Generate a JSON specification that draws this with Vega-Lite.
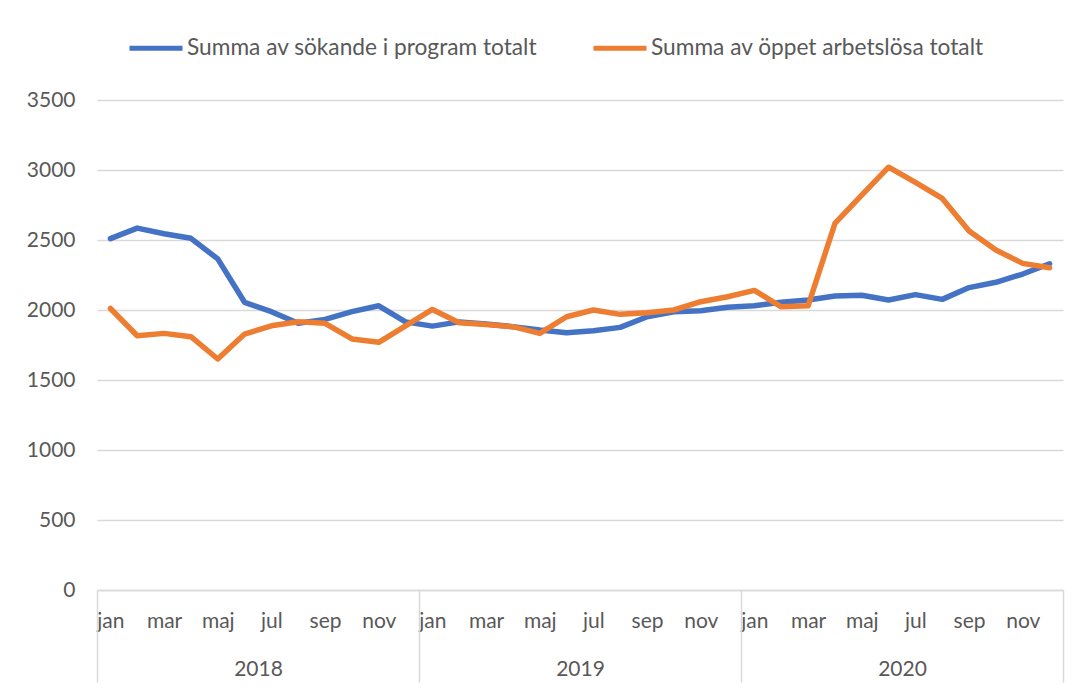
{
  "$schema": "https://vega.github.io/schema/vega-lite/v6.json",
  "autosize": {"type": "none"},
  "padding": {"left": 97, "top": 100, "right": 23, "bottom": 98},
  "width": 966,
  "height": 490,
  "background": "white",
  "config": {
    "view": {"stroke": null},
    "font": "Lato",
    "axis": {"labelFont": "Lato", "labelFontSize": 21, "labelColor": "#595959", "titleColor": "#595959"},
    "legend": {"labelFont": "Lato", "labelFontSize": 22.7, "labelColor": "#595959", "labelLimit": 0}
  },
  "datasets": {
    "series": [
      {"period": "2018 jan", "serie": "Summa av sökande i program totalt", "value": 2510},
      {"period": "2018 feb", "serie": "Summa av sökande i program totalt", "value": 2585},
      {"period": "2018 mar", "serie": "Summa av sökande i program totalt", "value": 2545},
      {"period": "2018 apr", "serie": "Summa av sökande i program totalt", "value": 2512},
      {"period": "2018 maj", "serie": "Summa av sökande i program totalt", "value": 2365},
      {"period": "2018 jun", "serie": "Summa av sökande i program totalt", "value": 2055},
      {"period": "2018 jul", "serie": "Summa av sökande i program totalt", "value": 1988},
      {"period": "2018 aug", "serie": "Summa av sökande i program totalt", "value": 1905},
      {"period": "2018 sep", "serie": "Summa av sökande i program totalt", "value": 1933},
      {"period": "2018 okt", "serie": "Summa av sökande i program totalt", "value": 1988},
      {"period": "2018 nov", "serie": "Summa av sökande i program totalt", "value": 2030},
      {"period": "2018 dec", "serie": "Summa av sökande i program totalt", "value": 1915},
      {"period": "2019 jan", "serie": "Summa av sökande i program totalt", "value": 1885},
      {"period": "2019 feb", "serie": "Summa av sökande i program totalt", "value": 1915},
      {"period": "2019 mar", "serie": "Summa av sökande i program totalt", "value": 1900},
      {"period": "2019 apr", "serie": "Summa av sökande i program totalt", "value": 1881},
      {"period": "2019 maj", "serie": "Summa av sökande i program totalt", "value": 1857},
      {"period": "2019 jun", "serie": "Summa av sökande i program totalt", "value": 1838},
      {"period": "2019 jul", "serie": "Summa av sökande i program totalt", "value": 1852},
      {"period": "2019 aug", "serie": "Summa av sökande i program totalt", "value": 1876},
      {"period": "2019 sep", "serie": "Summa av sökande i program totalt", "value": 1952},
      {"period": "2019 okt", "serie": "Summa av sökande i program totalt", "value": 1988},
      {"period": "2019 nov", "serie": "Summa av sökande i program totalt", "value": 1995},
      {"period": "2019 dec", "serie": "Summa av sökande i program totalt", "value": 2019},
      {"period": "2020 jan", "serie": "Summa av sökande i program totalt", "value": 2031},
      {"period": "2020 feb", "serie": "Summa av sökande i program totalt", "value": 2055},
      {"period": "2020 mar", "serie": "Summa av sökande i program totalt", "value": 2071},
      {"period": "2020 apr", "serie": "Summa av sökande i program totalt", "value": 2100},
      {"period": "2020 maj", "serie": "Summa av sökande i program totalt", "value": 2105},
      {"period": "2020 jun", "serie": "Summa av sökande i program totalt", "value": 2071},
      {"period": "2020 jul", "serie": "Summa av sökande i program totalt", "value": 2110},
      {"period": "2020 aug", "serie": "Summa av sökande i program totalt", "value": 2076},
      {"period": "2020 sep", "serie": "Summa av sökande i program totalt", "value": 2160},
      {"period": "2020 okt", "serie": "Summa av sökande i program totalt", "value": 2198},
      {"period": "2020 nov", "serie": "Summa av sökande i program totalt", "value": 2257},
      {"period": "2020 dec", "serie": "Summa av sökande i program totalt", "value": 2330},
      {"period": "2018 jan", "serie": "Summa av öppet arbetslösa totalt", "value": 2011},
      {"period": "2018 feb", "serie": "Summa av öppet arbetslösa totalt", "value": 1816},
      {"period": "2018 mar", "serie": "Summa av öppet arbetslösa totalt", "value": 1833},
      {"period": "2018 apr", "serie": "Summa av öppet arbetslösa totalt", "value": 1809},
      {"period": "2018 maj", "serie": "Summa av öppet arbetslösa totalt", "value": 1650},
      {"period": "2018 jun", "serie": "Summa av öppet arbetslösa totalt", "value": 1828},
      {"period": "2018 jul", "serie": "Summa av öppet arbetslösa totalt", "value": 1887},
      {"period": "2018 aug", "serie": "Summa av öppet arbetslösa totalt", "value": 1916},
      {"period": "2018 sep", "serie": "Summa av öppet arbetslösa totalt", "value": 1905},
      {"period": "2018 okt", "serie": "Summa av öppet arbetslösa totalt", "value": 1793},
      {"period": "2018 nov", "serie": "Summa av öppet arbetslösa totalt", "value": 1769},
      {"period": "2018 dec", "serie": "Summa av öppet arbetslösa totalt", "value": 1887},
      {"period": "2019 jan", "serie": "Summa av öppet arbetslösa totalt", "value": 2004},
      {"period": "2019 feb", "serie": "Summa av öppet arbetslösa totalt", "value": 1909},
      {"period": "2019 mar", "serie": "Summa av öppet arbetslösa totalt", "value": 1897},
      {"period": "2019 apr", "serie": "Summa av öppet arbetslösa totalt", "value": 1881},
      {"period": "2019 maj", "serie": "Summa av öppet arbetslösa totalt", "value": 1833},
      {"period": "2019 jun", "serie": "Summa av öppet arbetslösa totalt", "value": 1952},
      {"period": "2019 jul", "serie": "Summa av öppet arbetslösa totalt", "value": 2000},
      {"period": "2019 aug", "serie": "Summa av öppet arbetslösa totalt", "value": 1969},
      {"period": "2019 sep", "serie": "Summa av öppet arbetslösa totalt", "value": 1981},
      {"period": "2019 okt", "serie": "Summa av öppet arbetslösa totalt", "value": 2000},
      {"period": "2019 nov", "serie": "Summa av öppet arbetslösa totalt", "value": 2059},
      {"period": "2019 dec", "serie": "Summa av öppet arbetslösa totalt", "value": 2095},
      {"period": "2020 jan", "serie": "Summa av öppet arbetslösa totalt", "value": 2140},
      {"period": "2020 feb", "serie": "Summa av öppet arbetslösa totalt", "value": 2023},
      {"period": "2020 mar", "serie": "Summa av öppet arbetslösa totalt", "value": 2030},
      {"period": "2020 apr", "serie": "Summa av öppet arbetslösa totalt", "value": 2618},
      {"period": "2020 maj", "serie": "Summa av öppet arbetslösa totalt", "value": 2820},
      {"period": "2020 jun", "serie": "Summa av öppet arbetslösa totalt", "value": 3020},
      {"period": "2020 jul", "serie": "Summa av öppet arbetslösa totalt", "value": 2911},
      {"period": "2020 aug", "serie": "Summa av öppet arbetslösa totalt", "value": 2797},
      {"period": "2020 sep", "serie": "Summa av öppet arbetslösa totalt", "value": 2564},
      {"period": "2020 okt", "serie": "Summa av öppet arbetslösa totalt", "value": 2428},
      {"period": "2020 nov", "serie": "Summa av öppet arbetslösa totalt", "value": 2333},
      {"period": "2020 dec", "serie": "Summa av öppet arbetslösa totalt", "value": 2302}
    ],
    "years": [{"year": "2018"}, {"year": "2019"}, {"year": "2020"}]
  },
  "layer": [
    {
      "data": {"name": "series"},
      "mark": {"type": "line", "strokeWidth": 5.5, "strokeJoin": "round", "strokeCap": "round"},
      "encoding": {
        "x": {
          "field": "period", "type": "ordinal", "sort": null,
          "scale": {"type": "point", "padding": 0.5},
          "axis": {
            "orient": "bottom", "title": null, "ticks": false, "labelAngle": 0,
            "labelPadding": 20, "domainColor": "#d9d9d9", "domainWidth": 1.5,
            "labelExpr": "indexof(['jan','mar','maj','jul','sep','nov'], split(datum.value,' ')[1]) >= 0 ? split(datum.value,' ')[1] : ''"
          }
        },
        "y": {
          "field": "value", "type": "quantitative",
          "scale": {"domain": [0, 3500]},
          "axis": {
            "title": null, "values": [0, 500, 1000, 1500, 2000, 2500, 3000, 3500], "format": "d",
            "domain": false, "ticks": false, "labelPadding": 22,
            "gridColor": "#d9d9d9", "gridWidth": 1.5
          }
        },
        "color": {
          "field": "serie", "type": "nominal",
          "scale": {"domain": ["Summa av sökande i program totalt", "Summa av öppet arbetslösa totalt"], "range": ["#4472C4", "#ED7D31"]},
          "legend": {
            "title": null, "orient": "none", "direction": "horizontal",
            "legendX": 30, "legendY": -81, "padding": 0,
            "symbolType": "stroke", "symbolSize": 2809, "symbolStrokeWidth": 5,
            "columnPadding": 45, "labelOffset": 2, "labelLimit": 0
          }
        }
      }
    },
    {
      "data": {"name": "years"},
      "mark": {"type": "point", "opacity": 0},
      "encoding": {
        "x": {
          "field": "year", "type": "ordinal",
          "scale": {"type": "band", "paddingInner": 0, "paddingOuter": 0},
          "axis": {
            "orient": "bottom", "title": null, "domain": false, "labelAngle": 0,
            "tickBand": "extent", "tickSize": 92, "tickColor": "#d9d9d9", "tickWidth": 1.5,
            "labelPadding": -24
          }
        }
      }
    }
  ],
  "resolve": {"scale": {"x": "independent"}, "axis": {"x": "independent"}}
}
